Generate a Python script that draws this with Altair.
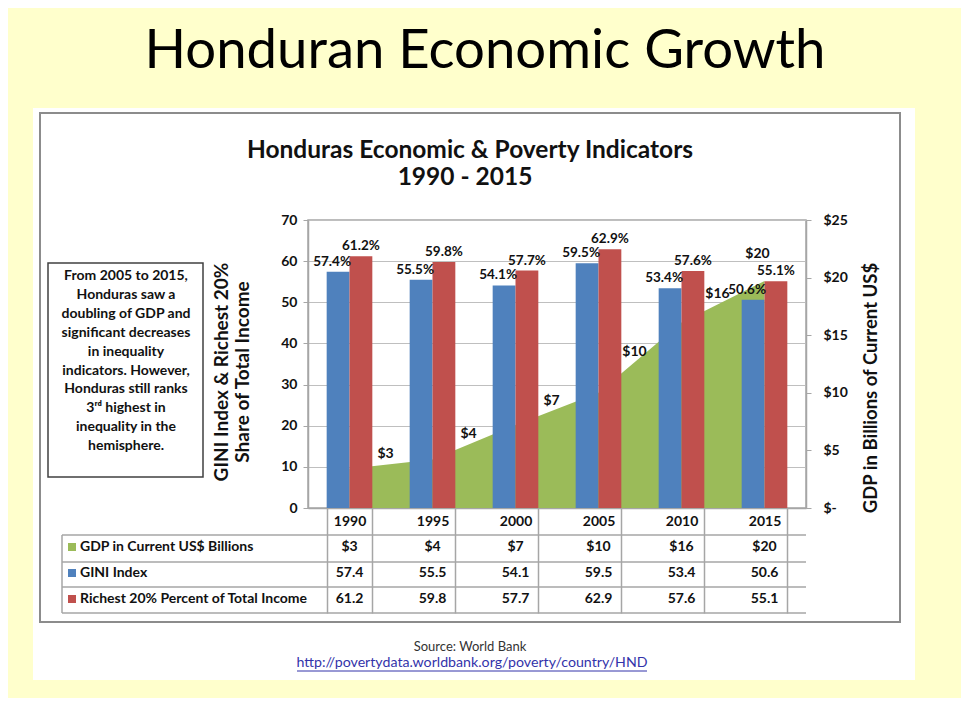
import altair as alt
import pandas as pd

# ---------------- data ----------------
years = ["1990", "1995", "2000", "2005", "2010", "2015"]
gdp_billions = [3.4, 4.2, 7.2, 10.0, 16.1, 19.7]
gini_index = [57.4, 55.5, 54.1, 59.5, 53.4, 50.6]
richest_20 = [61.2, 59.8, 57.7, 62.9, 57.6, 55.1]

left_ticks = [0, 10, 20, 30, 40, 50, 60, 70]
right_ticks = [0, 5, 10, 15, 20, 25]

row_labels = ["GDP in Current US$ Billions", "GINI Index", "Richest 20% Percent of Total Income"]
note_lines = ["From 2005  to 2015,", "Honduras saw a", "doubling of GDP and",
              "significant decreases", "in inequality", "indicators.  However,",
              "Honduras still ranks", "3\u02b3\u1d48 highest in", "inequality in the",
              "hemisphere."]
main_title = "Honduran Economic Growth"
chart_title = ["Honduras Economic & Poverty Indicators", "1990 - 2015"]
left_title = ["GINI Index & Richest 20%", "Share of Total Income"]
right_title = "GDP in Billions of  Current US$"
source_lines = ["Source: World Bank", "http://povertydata.worldbank.org/poverty/country/HND"]

BLUE = "#4F81BD"
RED = "#C0504D"
GREEN = "#9BBB59"
YELLOW = "#FFFFCC"
GRAY = "#A6A6A6"
FONT = "Lato"

df = pd.DataFrame({"year": years, "gdp": gdp_billions, "gini": gini_index, "rich": richest_20})
one = pd.DataFrame({"k": [0]})

W, H = 498, 288

x_scale = alt.Scale(domain=years, paddingInner=0.45, paddingOuter=0.225)
x_axis = alt.Axis(title=None, tickBand="extent", tickSize=105, tickColor=GRAY, tickWidth=1.5,
                  domainColor=GRAY, domainWidth=1.5, labelAngle=0, labelFont=FONT,
                  labelFontWeight="bold", labelFontSize=14, labelColor="#111",
                  labelBaseline="middle", labelPadding=-92, grid=False)


def xe(center=False):
    if center:
        return alt.X("year:N", scale=x_scale, axis=x_axis, bandPosition=0.5)
    return alt.X("year:N", scale=x_scale, axis=x_axis)


left_scale = alt.Scale(domain=[0, 70])
left_axis = alt.Axis(title=None, values=left_ticks, grid=True, gridColor="#BFBFBF", gridWidth=1.2,
                     domainColor=GRAY, domainWidth=1.5, tickColor=GRAY, tickSize=5,
                     labelFont=FONT, labelFontWeight="bold", labelFontSize=14,
                     labelColor="#111", labelPadding=6)
right_scale = alt.Scale(domain=[0, 25])
right_axis = alt.Axis(title=None, orient="right", values=right_ticks, grid=False,
                      domainColor=GRAY, domainWidth=1.5, tickColor=GRAY, tickSize=5,
                      labelFont=FONT, labelFontWeight="bold", labelFontSize=14,
                      labelColor="#111", labelAlign="left", labelPadding=12,
                      labelExpr="datum.value == 0 ? '$-' : '$' + datum.value")

# ---------------- decoration (background panels) ----------------
def rect(x1, x2, y1, y2, **kw):
    return alt.Chart(one).mark_rect(**kw).encode(
        x=alt.value(x1), x2=alt.value(x2), y=alt.value(y1), y2=alt.value(y2))


strips = [
    rect(-308, 663, -220, -112, color=YELLOW),
    rect(-308, 663, 460, 490, color=YELLOW),
    rect(-308, -275, -220, 490, color=YELLOW),
    rect(607, 663, -220, 490, color=YELLOW),
    rect(-268, 592, -107, 402, fill=None, filled=False, stroke="#8C8C8C", strokeWidth=2),
    rect(-260, -105, 43, 257, fill=None, filled=False, stroke="#404040", strokeWidth=1.5),
]


def txt(s, x, y, size, bold=False, color="#111", align="center", angle=0, baseline="middle"):
    return alt.Chart(one).mark_text(text=s, fontSize=size, font=FONT,
                                    fontWeight="bold" if bold else "normal",
                                    color=color, align=align, baseline=baseline,
                                    angle=angle).encode(x=alt.value(x), y=alt.value(y))


texts = [
    txt(main_title, 177, -152, 54.5, baseline="alphabetic", color="#000"),
    txt(chart_title[0], 162, -62, 24.5, bold=True, baseline="alphabetic"),
    txt(chart_title[1], 157, -35, 24.5, bold=True, baseline="alphabetic"),
    txt(left_title[0], -86, 152, 19, bold=True, angle=270),
    txt(left_title[1], -65, 152, 19, bold=True, angle=270),
    txt(right_title, 563, 168, 18.5, bold=True, angle=270),
    txt(source_lines[0], 162, 427, 13, color="#333"),
    txt(source_lines[1], 164, 443, 14.2, color="#3333AA"),
]
for i, line in enumerate(note_lines):
    texts.append(txt(line, -182, 56 + i * 18.9, 14, bold=True))

underline = alt.Chart(one).mark_rule(color="#3333AA", strokeWidth=1).encode(
    x=alt.value(-11), x2=alt.value(339), y=alt.value(451))

# ---------------- GDP area (right axis) ----------------
area = alt.Chart(df).mark_area(color=GREEN, opacity=1).encode(
    x=xe(True), y=alt.Y("gdp:Q", scale=right_scale, axis=right_axis))

gdp_lbl = alt.Chart(df).transform_window(
    next_gdp="lead(gdp)", sort=[alt.SortField("year")]
).transform_calculate(
    ly="isValid(datum.next_gdp) ? datum.gdp + (datum.next_gdp - datum.gdp) * 0.42 : datum.gdp",
    lbl="'$' + format(datum.gdp, '.0f')")
lbl_style = dict(font=FONT, fontWeight="bold", fontSize=14, color="#111", baseline="bottom")
gdp_lbl_a = gdp_lbl.transform_filter("datum.year != '2015'").mark_text(dx=36, dy=-4, **lbl_style).encode(
    x=xe(True), y=alt.Y("ly:Q", scale=right_scale, axis=right_axis), text="lbl:N")
gdp_lbl_b = gdp_lbl.transform_filter("datum.year == '2015'").mark_text(dx=-7, dy=-20, **lbl_style).encode(
    x=xe(True), y=alt.Y("ly:Q", scale=right_scale, axis=right_axis), text="lbl:N")

gdp_layer = alt.layer(area, gdp_lbl_a, gdp_lbl_b)

# ---------------- bars (left axis) ----------------
xoff = alt.XOffset("series:N", scale=alt.Scale(domain=["gini", "rich"], paddingInner=0, paddingOuter=0))
folded = alt.Chart(df).transform_fold(["gini", "rich"], as_=["series", "value"])
bars = folded.mark_bar().encode(
    x=xe(), xOffset=xoff,
    y=alt.Y("value:Q", scale=left_scale, axis=left_axis),
    color=alt.Color("series:N", scale=alt.Scale(domain=["gini", "rich"], range=[BLUE, RED]), legend=None))
bar_lbl = folded.transform_calculate(lbl="format(datum.value, '.1f') + '%'")
bar_style = dict(font=FONT, fontWeight="bold", fontSize=13.5, color="#111", baseline="bottom", dy=-3)
bar_lbl_g = bar_lbl.transform_filter("datum.series == 'gini'").mark_text(dx=-6, **bar_style).encode(
    x=xe(), xOffset=xoff, y=alt.Y("value:Q", scale=left_scale, axis=left_axis), text="lbl:N")
bar_lbl_r = bar_lbl.transform_filter("datum.series == 'rich'").mark_text(**bar_style).encode(
    x=xe(), xOffset=xoff, y=alt.Y("value:Q", scale=left_scale, axis=left_axis), text="lbl:N")

bar_layer = alt.layer(bars, bar_lbl_g, bar_lbl_r)

# ---------------- data table ----------------
cell_style = dict(font=FONT, fontWeight="bold", fontSize=14, color="#111", baseline="middle")
row_y = [327, 353, 379]
table_cells = [
    alt.Chart(df).transform_calculate(lbl="'$' + format(datum.gdp, '.0f')").mark_text(**cell_style).encode(
        x=xe(True), y=alt.value(row_y[0]), text="lbl:N"),
    alt.Chart(df).transform_calculate(lbl="format(datum.gini, '.1f')").mark_text(**cell_style).encode(
        x=xe(True), y=alt.value(row_y[1]), text="lbl:N"),
    alt.Chart(df).transform_calculate(lbl="format(datum.rich, '.1f')").mark_text(**cell_style).encode(
        x=xe(True), y=alt.value(row_y[2]), text="lbl:N"),
]
table_lines = []
for yy in [315, 342, 367, 393]:
    table_lines.append(alt.Chart(one).mark_rule(color=GRAY, strokeWidth=1.5).encode(
        x=alt.value(-246), x2=alt.value(498), y=alt.value(yy)))
table_lines.append(alt.Chart(one).mark_rule(color=GRAY, strokeWidth=1.5).encode(
    x=alt.value(-246), y=alt.value(315), y2=alt.value(393)))
row_colors = [GREEN, BLUE, RED]
for i, lab in enumerate(row_labels):
    table_lines.append(alt.Chart(one).mark_square(size=64, color=row_colors[i], opacity=1).encode(
        x=alt.value(-236), y=alt.value(row_y[i])))
    table_lines.append(alt.Chart(one).mark_text(text=lab, align="left", **cell_style).encode(
        x=alt.value(-228), y=alt.value(row_y[i])))

chart = alt.layer(
    *strips, gdp_layer, bar_layer, *table_cells, *table_lines, *texts, underline
).resolve_scale(y="independent").properties(
    width=W, height=H,
    autosize=alt.AutoSizeParams(type="none"),
    padding={"left": 300, "top": 212, "right": 155, "bottom": 190},
).configure(background="white", font=FONT).configure_view(stroke=GRAY, strokeWidth=1.5)

chart.save("out.html", embed_options={"renderer": "svg", "actions": False})
